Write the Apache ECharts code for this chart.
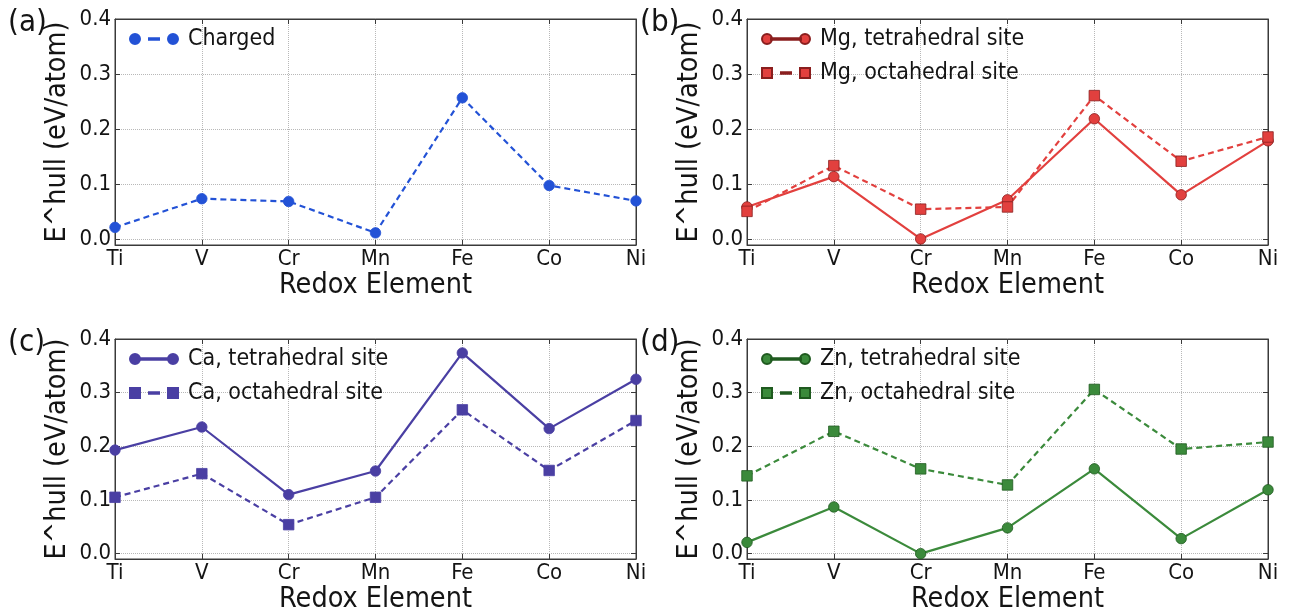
<!DOCTYPE html>
<html>
<head>
<meta charset="utf-8">
<script src="https://cdn.jsdelivr.net/npm/echarts@6/dist/echarts.min.js"></script>
<style>
html,body{margin:0;padding:0;background:#fff;}
#chart{width:1290px;height:615px;}
</style>
</head>
<body>
<div id="chart"></div>
<script>
// ---- data ----
const categories = ['Ti','V','Cr','Mn','Fe','Co','Ni'];
const yTicks = [0.0, 0.1, 0.2, 0.3, 0.4];
const charged = [0.022, 0.074, 0.069, 0.012, 0.257, 0.098, 0.070];
const mgTet = [0.059, 0.114, 0.001, 0.072, 0.219, 0.081, 0.179];
const mgOct = [0.051, 0.134, 0.055, 0.059, 0.261, 0.142, 0.186];
const caTet = [0.193, 0.236, 0.110, 0.154, 0.374, 0.233, 0.325];
const caOct = [0.105, 0.149, 0.054, 0.105, 0.268, 0.155, 0.248];
const znTet = [0.021, 0.087, 0.000, 0.048, 0.158, 0.028, 0.119];
const znOct = [0.145, 0.228, 0.158, 0.128, 0.306, 0.195, 0.208];
const panelLabels = ['(a)', '(b)', '(c)', '(d)'];
const xTitle = 'Redox Element';
const yTitle = 'E^hull (eV/atom)';

// ---- styling ----
const FONT = "'DejaVu Sans Condensed', 'DejaVu Sans', sans-serif";
const TXT = '#141414';
const FRAME = '#3a3a3a';
const GRIDC = '#b8b8b8';

const grids = [
  {left: 115, top: 19, width: 521, height: 226},
  {left: 747, top: 19, width: 521, height: 226},
  {left: 115, top: 339, width: 521, height: 226},
  {left: 747, top: 339, width: 521, height: 226}
];

const ICON_CIRC_SOLID = 'path://M0,5a5,5 0 1,0 10,0a5,5 0 1,0 -10,0zM9,4.2h30v1.6h-30zM38,5a5,5 0 1,0 10,0a5,5 0 1,0 -10,0z';
const ICON_CIRC_DASH = 'path://M0,5a5,5 0 1,0 10,0a5,5 0 1,0 -10,0zM19,4.2h10v1.6h-10zM38,5a5,5 0 1,0 10,0a5,5 0 1,0 -10,0z';
const ICON_SQ_DASH = 'path://M0,0h10v10h-10zM19,4.2h10v1.6h-10zM38,0h10v10h-10z';

const panels = [
  {series: [
    {name: 'Charged', data: charged, color: '#2352d6', edge: '#2352d6', symbol: 'circle', dash: true, icon: ICON_CIRC_DASH}
  ]},
  {series: [
    {name: 'Mg, tetrahedral site', data: mgTet, color: '#e2403e', edge: '#8a1e1e', symbol: 'circle', dash: false, icon: ICON_CIRC_SOLID},
    {name: 'Mg, octahedral site', data: mgOct, color: '#e2403e', edge: '#8a1e1e', symbol: 'rect', dash: true, icon: ICON_SQ_DASH}
  ]},
  {series: [
    {name: 'Ca, tetrahedral site', data: caTet, color: '#4a3fa3', edge: '#4a3fa3', symbol: 'circle', dash: false, icon: ICON_CIRC_SOLID},
    {name: 'Ca, octahedral site', data: caOct, color: '#4a3fa3', edge: '#4a3fa3', symbol: 'rect', dash: true, icon: ICON_SQ_DASH}
  ]},
  {series: [
    {name: 'Zn, tetrahedral site', data: znTet, color: '#3b8a3b', edge: '#1f5a1f', symbol: 'circle', dash: false, icon: ICON_CIRC_SOLID},
    {name: 'Zn, octahedral site', data: znOct, color: '#3b8a3b', edge: '#1f5a1f', symbol: 'rect', dash: true, icon: ICON_SQ_DASH}
  ]}
];

const option = {
  backgroundColor: '#fff',
  animation: false,
  textStyle: {fontFamily: FONT, color: TXT},
  title: [], grid: [], xAxis: [], yAxis: [], legend: [], series: []
};

panels.forEach((p, i) => {
  const g = grids[i];
  option.grid.push(Object.assign({show: true, borderColor: FRAME, borderWidth: 1, backgroundColor: 'transparent'}, g));
  option.title.push({
    text: panelLabels[i],
    left: (i % 2 === 0) ? 3 : 635,
    top: g.top - 17,
    textStyle: {fontFamily: FONT, fontSize: 31, fontWeight: 'normal', color: TXT}
  });
  // bottom x axis
  option.xAxis.push({
    type: 'category', data: categories, gridIndex: i, boundaryGap: false, position: 'bottom',
    axisLine: {show: true, onZero: false, lineStyle: {color: FRAME, width: 1}},
    axisTick: {show: true, inside: true, length: 5, lineStyle: {color: FRAME}},
    axisLabel: {fontFamily: FONT, fontSize: 22, color: TXT, margin: 3},
    splitLine: {show: true, lineStyle: {type: 'dotted', color: GRIDC, width: 1}},
    name: xTitle, nameLocation: 'middle', nameGap: 26,
    nameTextStyle: {fontFamily: FONT, fontSize: 28.5, color: TXT}
  });
  // top x axis (ticks only)
  option.xAxis.push({
    type: 'category', data: categories, gridIndex: i, boundaryGap: false, position: 'top',
    axisLine: {show: true, onZero: false, lineStyle: {color: FRAME, width: 1}},
    axisTick: {show: true, inside: true, length: 5, lineStyle: {color: FRAME}},
    axisLabel: {show: false}, splitLine: {show: false}
  });
  const yBase = {
    type: 'value', gridIndex: i, min: -0.01, max: 0.4,
    axisLine: {show: true, onZero: false, lineStyle: {color: FRAME, width: 1}},
    axisTick: {show: true, inside: true, length: 5, customValues: yTicks, lineStyle: {color: FRAME}}
  };
  option.yAxis.push(Object.assign({}, yBase, {
    position: 'left',
    axisLabel: {customValues: yTicks, fontFamily: FONT, fontSize: 22, color: TXT, margin: 4,
      formatter: v => v.toFixed(1)},
    splitLine: {show: true, lineStyle: {type: 'dotted', color: GRIDC, width: 1}},
    name: yTitle, nameLocation: 'middle', nameGap: 43, nameRotate: 90,
    nameTextStyle: {fontFamily: FONT, fontSize: 28.5, color: TXT}
  }));
  option.yAxis.push(Object.assign({}, yBase, {
    position: 'right', axisLabel: {show: false}, splitLine: {show: false}
  }));
  option.legend.push({
    data: p.series.map(s => ({name: s.name, icon: s.icon})),
    orient: 'vertical', left: g.left + 9, top: g.top + 2,
    itemWidth: 48, itemHeight: 10, itemGap: 8,
    textStyle: {fontFamily: FONT, fontSize: 23, color: TXT, lineHeight: 26, padding: [0, 0, 0, 5]}
  });
  p.series.forEach(s => {
    option.series.push({
      type: 'line', name: s.name, data: s.data,
      xAxisIndex: i * 2, yAxisIndex: i * 2,
      symbol: s.symbol, symbolSize: 10.5, showSymbol: true, clip: false,
      color: s.color,
      lineStyle: {color: s.color, width: 2.2, type: s.dash ? [6, 4] : 'solid'},
      itemStyle: {color: s.color, borderColor: s.edge, borderWidth: 0.8}
    });
  });
});

const chart = echarts.init(document.getElementById('chart'), null, {renderer: 'canvas'});
chart.setOption(option);
</script>
</body>
</html>
